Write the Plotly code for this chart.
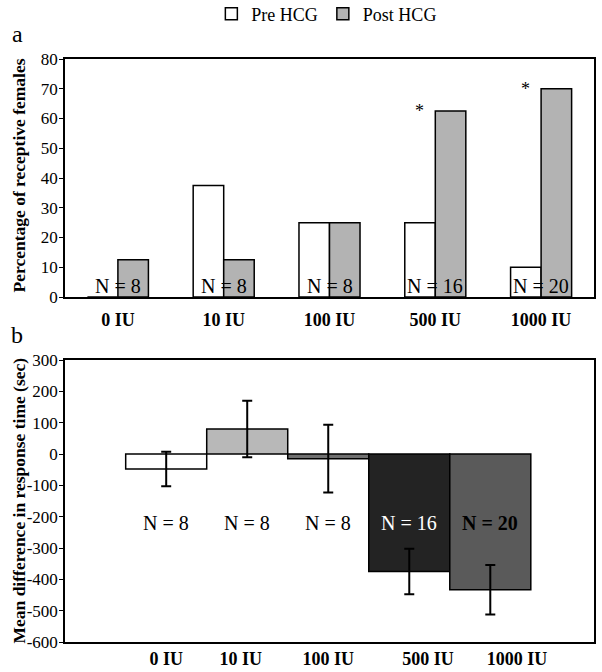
import plotly.graph_objects as go

# ---------------- data ----------------
doses = ["0 IU", "10 IU", "100 IU", "500 IU", "1000 IU"]
pre_hcg = [0, 37.5, 25, 25, 10]          # % receptive females before HCG
post_hcg = [12.5, 12.5, 25, 62.5, 70]    # % receptive females after HCG
n_per_group = [8, 8, 8, 16, 20]
significant = [False, False, False, True, True]
mean_diff = [-48, 80, -15, -375, -433]   # mean difference in response time (sec)
sem_diff = [55, 90, 108, 73, 79]
top_ticks = [0, 10, 20, 30, 40, 50, 60, 70, 80]
bottom_ticks = [300, 200, 100, 0, -100, -200, -300, -400, -500, -600]

# ---------------- style ----------------
FONT = "Liberation Serif, Times New Roman, serif"
bottom_colors = ["#ffffff", "#b8b8b8", "#707070", "#232323", "#5a5a5a"]
n_colors = ["black", "black", "black", "white", "black"]
n_bold = [False, False, False, False, True]
label_shift = [0, -0.08, 0, 0.23, 0.33]   # tick-label offsets seen in the original
N_LABEL_Y = -220
W, H = 602, 672
ML, MR, MT, MB = 65, 8, 59, 30
PW, PH = W - ML - MR, H - MT - MB


def px_x(px):
    return (px - ML) / PW


def px_y(py):
    return (H - MB - py) / PH


fig = go.Figure()
line = dict(color="black", width=1.5)
fig.add_trace(go.Bar(x=doses, y=pre_hcg, name="Pre HCG",
                     marker=dict(color="white", line=line),
                     xaxis="x", yaxis="y"))
fig.add_trace(go.Bar(x=doses, y=post_hcg, name="Post HCG",
                     marker=dict(color="#b3b3b3", line=line),
                     xaxis="x", yaxis="y"))
fig.add_trace(go.Bar(x=list(range(len(doses))), y=mean_diff, width=1,
                     marker=dict(color=bottom_colors, line=line),
                     error_y=dict(type="data", array=sem_diff, color="black",
                                  thickness=2, width=5),
                     showlegend=False, xaxis="x2", yaxis="y2"))

top_dom = [px_y(297), 1]
bot_dom = [0, px_y(360)]
axis_common = dict(showline=True, mirror=True, linecolor="black", linewidth=1.5,
                   showgrid=False, zeroline=False, automargin=False)

fig.update_layout(
    template="none",
    width=W, height=H, margin=dict(l=ML, r=MR, t=MT, b=MB, autoexpand=False),
    paper_bgcolor="white", plot_bgcolor="white",
    font=dict(family=FONT, color="black", size=17),
    barmode="group", bargap=0.423, bargroupgap=0,
    showlegend=True,
    legend=dict(orientation="h", x=0.495, xanchor="center", xref="paper",
                y=1 - 14 / H, yanchor="middle", yref="container",
                font=dict(size=18), itemwidth=30, traceorder="normal",
                bgcolor="rgba(0,0,0,0)"),
    xaxis=dict(domain=[0, 1], anchor="y", type="category", range=[-0.5, 4.5],
               ticks="", tickfont=dict(size=18, weight="bold"), ticklabelstandoff=6,
               **axis_common),
    yaxis=dict(domain=top_dom, anchor="x", range=[0, 80], tickvals=top_ticks,
               ticks="outside", ticklen=4, tickcolor="black", tickwidth=1,
               ticklabelstandoff=-2, tickfont=dict(size=17), **axis_common),
    xaxis2=dict(domain=[0, 1], anchor="y2", range=[-1.249, 5.28],
                tickvals=[i + s for i, s in enumerate(label_shift)], ticktext=doses,
                ticks="", tickfont=dict(size=18, weight="bold"), ticklabelstandoff=0,
                **axis_common),
    yaxis2=dict(domain=bot_dom, anchor="x2", range=[-600, 300], tickvals=bottom_ticks,
                ticktext=[str(v) for v in bottom_ticks],
                ticks="outside", ticklen=4, tickcolor="black", tickwidth=1,
                ticklabelstandoff=-2, tickfont=dict(size=17), **axis_common),
)

ann = []
common = dict(xref="paper", yref="paper", showarrow=False,
              xanchor="center", yanchor="middle")
# panel letters
ann.append(dict(text="a", x=px_x(17), y=px_y(34), font=dict(size=24), **common))
ann.append(dict(text="b", x=px_x(17), y=px_y(335), font=dict(size=24), **common))
# y titles
ann.append(dict(text="<b>Percentage of receptive females</b>", textangle=-90,
                x=px_x(18.5), y=px_y(176), font=dict(size=17.5), **common))
ann.append(dict(text="<b>Mean difference in response time (sec)</b>", textangle=-90,
                x=px_x(18.5), y=px_y(501), font=dict(size=17.5), **common))
# N labels and asterisks
for i, d in enumerate(doses):
    ann.append(dict(text=f"N = {n_per_group[i]}", x=d, y=0, xref="x", yref="y",
                    xanchor="center", yanchor="bottom", yshift=-2, showarrow=False,
                    font=dict(size=20)))
    if significant[i]:
        ann.append(dict(text="*", x=d, y=post_hcg[i], xref="x", yref="y",
                        xshift=-16, xanchor="center", yanchor="middle", yshift=0,
                        showarrow=False, font=dict(size=18)))
    txt = f"N = {n_per_group[i]}"
    if n_bold[i]:
        txt = f"<b>{txt}</b>"
    ann.append(dict(text=txt, x=i, y=N_LABEL_Y, xref="x2", yref="y2",
                    xanchor="center", yanchor="middle", showarrow=False,
                    font=dict(size=20, color=n_colors[i])))
fig.update_layout(annotations=ann)

fig.write_html("out.html", post_script="document.body.style.margin='0';",
               config={"displayModeBar": False})
